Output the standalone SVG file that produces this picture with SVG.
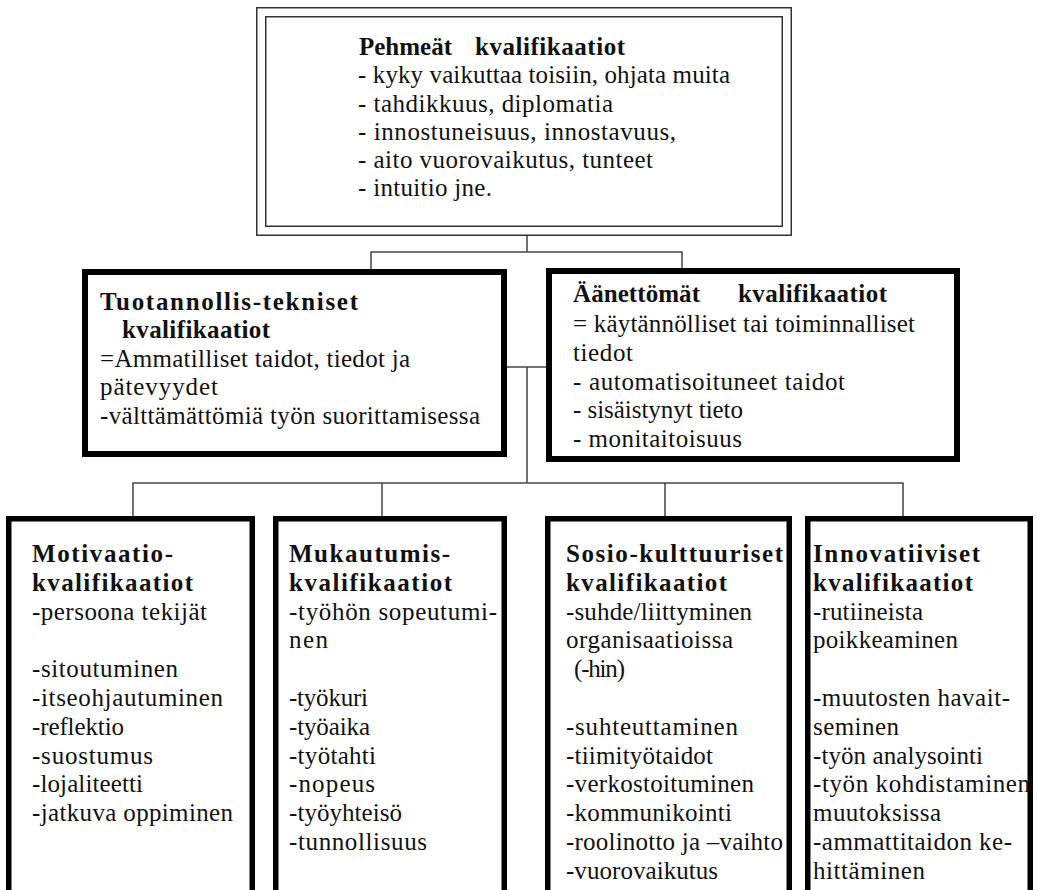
<svg xmlns="http://www.w3.org/2000/svg" width="1037" height="890" viewBox="0 0 1037 890" font-family="'Liberation Serif', Tinos, 'DejaVu Serif', 'Noto Serif', serif">
<style>
text{font-family:'Liberation Serif',Tinos,'DejaVu Serif','Noto Serif',serif;font-size:25px;fill:#111}
.b{font-weight:bold}
.thin{fill:none;stroke:#333;stroke-width:1.5}
.thick{fill:#fff;stroke:#000;stroke-width:6}
.bot{fill:#fff;stroke:#000;stroke-width:5.5}
.con line{stroke:#444;stroke-width:1.5}
</style>
<rect width="1037" height="890" fill="#fff"/>
<g class="con" id="connectors">
<line x1="527" y1="236" x2="527" y2="252"/>
<line x1="370.5" y1="252" x2="682.5" y2="252"/>
<line x1="371" y1="252" x2="371" y2="270"/>
<line x1="682" y1="252" x2="682" y2="270"/>
<line x1="506" y1="367" x2="547" y2="367"/>
<line x1="527" y1="367" x2="527" y2="483"/>
<line x1="132.5" y1="483" x2="903.5" y2="483"/>
<line x1="133" y1="483" x2="133" y2="517"/>
<line x1="382" y1="483" x2="382" y2="517"/>
<line x1="665" y1="483" x2="665" y2="517"/>
<line x1="903" y1="483" x2="903" y2="517"/>
</g>
<g id="pehmeat">
<rect class="thin" x="256.75" y="7.75" width="534.5" height="227.5"/>
<rect class="thin" x="265.75" y="16.75" width="516.5" height="209.5"/>
<text class="b" x="359" y="55" textLength="93" lengthAdjust="spacing">Pehmeät</text>
<text class="b" x="475" y="55" textLength="150" lengthAdjust="spacing">kvalifikaatiot</text>
<text x="358" y="83" textLength="372" lengthAdjust="spacing">- kyky vaikuttaa toisiin, ohjata muita</text>
<text x="358" y="112" textLength="255" lengthAdjust="spacing">- tahdikkuus, diplomatia</text>
<text x="358" y="140" textLength="318" lengthAdjust="spacing">- innostuneisuus, innostavuus,</text>
<text x="358" y="168" textLength="295" lengthAdjust="spacing">- aito vuorovaikutus, tunteet</text>
<text x="358" y="196" textLength="134" lengthAdjust="spacing">- intuitio jne.</text>
</g>
<g id="tuotannollis">
<rect class="thick" x="85" y="272" width="419" height="182"/>
<text class="b" x="100" y="310" textLength="258" lengthAdjust="spacing">Tuotannollis-tekniset</text>
<text class="b" x="122" y="338" textLength="148" lengthAdjust="spacing">kvalifikaatiot</text>
<text x="100" y="367" textLength="310" lengthAdjust="spacing">=Ammatilliset taidot, tiedot ja</text>
<text x="100" y="395" textLength="118" lengthAdjust="spacing">pätevyydet</text>
<text x="100" y="424" textLength="380" lengthAdjust="spacing">-välttämättömiä työn suorittamisessa</text>
</g>
<g id="aanettomat">
<rect class="thick" x="549" y="271" width="408" height="188"/>
<text class="b" x="573" y="302" textLength="127" lengthAdjust="spacing">Äänettömät</text>
<text class="b" x="738" y="302" textLength="149" lengthAdjust="spacing">kvalifikaatiot</text>
<text x="573" y="332" textLength="342" lengthAdjust="spacing">= käytännölliset tai toiminnalliset</text>
<text x="573" y="361" textLength="60" lengthAdjust="spacing">tiedot</text>
<text x="573" y="390" textLength="272" lengthAdjust="spacing">- automatisoituneet taidot</text>
<text x="573" y="418" textLength="170" lengthAdjust="spacing">- sisäistynyt tieto</text>
<text x="573" y="447" textLength="169" lengthAdjust="spacing">- monitaitoisuus</text>
</g>
<g id="motivaatio">
<rect class="bot" x="8.75" y="518.75" width="243.5" height="400"/>
<text class="b" x="32" y="562" textLength="141" lengthAdjust="spacing">Motivaatio-</text>
<text class="b" x="32" y="591" textLength="161" lengthAdjust="spacing">kvalifikaatiot</text>
<text x="32" y="619.6" textLength="175" lengthAdjust="spacing">-persoona tekijät</text>
<text x="32" y="677.2" textLength="146" lengthAdjust="spacing">-sitoutuminen</text>
<text x="32" y="706" textLength="191" lengthAdjust="spacing">-itseohjautuminen</text>
<text x="32" y="734.8" textLength="92" lengthAdjust="spacing">-reflektio</text>
<text x="32" y="763.6" textLength="121" lengthAdjust="spacing">-suostumus</text>
<text x="32" y="792.4" textLength="111" lengthAdjust="spacing">-lojaliteetti</text>
<text x="32" y="821.2" textLength="201" lengthAdjust="spacing">-jatkuva oppiminen</text>
</g>
<g id="mukautumis">
<rect class="bot" x="275.75" y="518.75" width="228.5" height="400"/>
<text class="b" x="289" y="562" textLength="161" lengthAdjust="spacing">Mukautumis-</text>
<text class="b" x="289" y="591" textLength="163" lengthAdjust="spacing">kvalifikaatiot</text>
<text x="289" y="619.6" textLength="208" lengthAdjust="spacing">-työhön sopeutumi-</text>
<text x="289" y="648.4" textLength="39" lengthAdjust="spacing">nen</text>
<text x="289" y="706" textLength="79" lengthAdjust="spacing">-työkuri</text>
<text x="289" y="734.8" textLength="81" lengthAdjust="spacing">-työaika</text>
<text x="289" y="763.6" textLength="87" lengthAdjust="spacing">-työtahti</text>
<text x="289" y="792.4" textLength="86" lengthAdjust="spacing">-nopeus</text>
<text x="289" y="821.2" textLength="113" lengthAdjust="spacing">-työyhteisö</text>
<text x="289" y="850" textLength="138" lengthAdjust="spacing">-tunnollisuus</text>
</g>
<g id="sosio">
<rect class="bot" x="547.75" y="518.75" width="241.5" height="400"/>
<text class="b" x="566" y="562" textLength="217" lengthAdjust="spacing">Sosio-kulttuuriset</text>
<text class="b" x="566" y="591" textLength="161" lengthAdjust="spacing">kvalifikaatiot</text>
<text x="566" y="619.6" textLength="186" lengthAdjust="spacing">-suhde/liittyminen</text>
<text x="566" y="648.4" textLength="167" lengthAdjust="spacing">organisaatioissa</text>
<text x="574" y="677.2" textLength="51" lengthAdjust="spacing">(-hin)</text>
<text x="566" y="734.8" textLength="172" lengthAdjust="spacing">-suhteuttaminen</text>
<text x="566" y="763.6" textLength="147" lengthAdjust="spacing">-tiimityötaidot</text>
<text x="566" y="792.4" textLength="188" lengthAdjust="spacing">-verkostoituminen</text>
<text x="566" y="821.2" textLength="166" lengthAdjust="spacing">-kommunikointi</text>
<text x="566" y="850" textLength="217" lengthAdjust="spacing">-roolinotto ja –vaihto</text>
<text x="566" y="878.8" textLength="152" lengthAdjust="spacing">-vuorovaikutus</text>
</g>
<g id="innovatiiviset">
<rect class="bot" x="807.75" y="518.75" width="222.5" height="400"/>
<text class="b" x="813" y="562" textLength="167" lengthAdjust="spacing">Innovatiiviset</text>
<text class="b" x="813" y="591" textLength="160" lengthAdjust="spacing">kvalifikaatiot</text>
<text x="813" y="619.6" textLength="110" lengthAdjust="spacing">-rutiineista</text>
<text x="813" y="648.4" textLength="145" lengthAdjust="spacing">poikkeaminen</text>
<text x="813" y="706" textLength="197" lengthAdjust="spacing">-muutosten havait-</text>
<text x="813" y="734.8" textLength="86" lengthAdjust="spacing">seminen</text>
<text x="813" y="763.6" textLength="170" lengthAdjust="spacing">-työn analysointi</text>
<text x="813" y="792.4" textLength="217" lengthAdjust="spacing">-työn kohdistaminen</text>
<text x="813" y="821.2" textLength="128" lengthAdjust="spacing">muutoksissa</text>
<text x="813" y="850" textLength="199" lengthAdjust="spacing">-ammattitaidon ke-</text>
<text x="813" y="878.8" textLength="112" lengthAdjust="spacing">hittäminen</text>
</g>
</svg>
